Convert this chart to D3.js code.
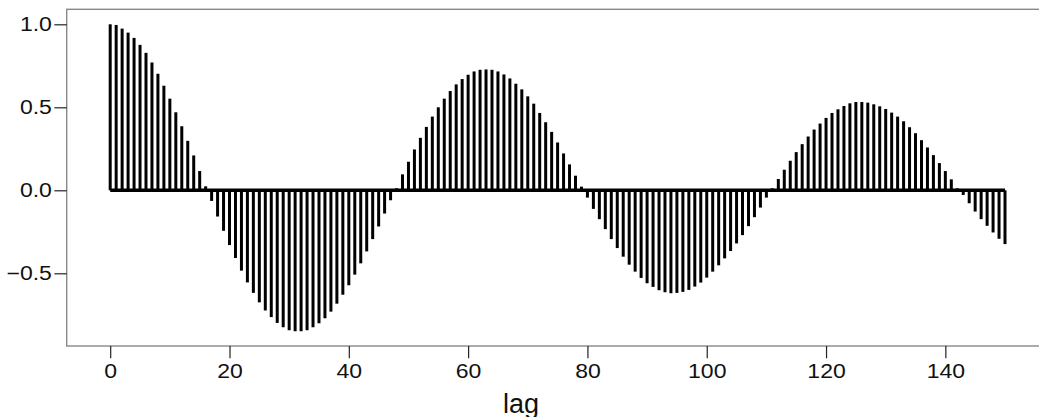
<!DOCTYPE html>
<html>
<head>
<meta charset="utf-8">
<script src="https://cdn.jsdelivr.net/npm/d3@7"></script>
<style>
    body { margin: 0; background: #fff; }
    text { font-family: "Liberation Sans", Arial, sans-serif; }
</style>
</head>
<body>
<div class="canva"></div>
<script>

// autocorrelation values, lag 0..150
const lags = d3.range(0, 151);
const acf = [
    1.000, 0.996, 0.974, 0.950, 0.918, 0.876, 0.828, 0.770, 0.702, 0.630,
    0.552, 0.470, 0.386, 0.298, 0.210, 0.116, 0.024, -0.064, -0.158, -0.244,
    -0.330, -0.408, -0.484, -0.555, -0.618, -0.675, -0.724, -0.764, -0.799, -0.825,
    -0.843, -0.849, -0.849, -0.843, -0.825, -0.801, -0.771, -0.731, -0.683, -0.629,
    -0.572, -0.508, -0.440, -0.368, -0.294, -0.218, -0.140, -0.060, 0.012, 0.096,
    0.172, 0.246, 0.316, 0.382, 0.444, 0.500, 0.552, 0.598, 0.638, 0.670,
    0.696, 0.716, 0.726, 0.728, 0.726, 0.716, 0.698, 0.674, 0.642, 0.608,
    0.566, 0.522, 0.466, 0.410, 0.352, 0.288, 0.222, 0.156, 0.088, 0.022,
    -0.044, -0.112, -0.174, -0.234, -0.294, -0.348, -0.400, -0.448, -0.490, -0.528,
    -0.560, -0.582, -0.602, -0.614, -0.620, -0.618, -0.612, -0.600, -0.580, -0.556,
    -0.526, -0.490, -0.452, -0.410, -0.366, -0.320, -0.270, -0.216, -0.162, -0.104,
    -0.044, 0.012, 0.068, 0.124, 0.178, 0.230, 0.278, 0.324, 0.366, 0.402,
    0.436, 0.466, 0.488, 0.508, 0.524, 0.532, 0.532, 0.528, 0.518, 0.506,
    0.490, 0.468, 0.444, 0.416, 0.380, 0.344, 0.302, 0.258, 0.212, 0.164,
    0.116, 0.066, 0.012, -0.028, -0.078, -0.128, -0.174, -0.214, -0.254, -0.292,
    -0.324
];
const xTicks = [0, 20, 40, 60, 80, 100, 120, 140];
const yTicks = [-0.5, 0, 0.5, 1];

const svg = d3.select(".canva").append("svg")
    .attr("width", 1039)
    .attr("height", 417);

const x = d3.scaleLinear().domain([0, 150]).range([110.2, 1005]);
const y = d3.scaleLinear().domain([-0.5, 1]).range([273.3, 24.3]);

// frame (top, left, bottom; right side runs off the picture)
svg.append("rect")
    .attr("x", 66.7)
    .attr("y", 9.3)
    .attr("width", 1000)
    .attr("height", 336.7)
    .attr("fill", "none")
    .attr("stroke", "#888")
    .attr("stroke-width", 1.4);

svg.selectAll(".bar")
    .data(lags)
    .enter()
    .append("line")
    .attr("class", "bar")
    .attr("x1", d => x(d))
    .attr("x2", d => x(d))
    .attr("y1", y(0))
    .attr("y2", d => y(acf[d]))
    .attr("stroke", "black")
    .attr("stroke-width", 3);

svg.append("line")
    .attr("x1", x(0))
    .attr("x2", x(150))
    .attr("y1", y(0))
    .attr("y2", y(0))
    .attr("stroke", "black")
    .attr("stroke-width", 3.5);

const stretch = 1.18;

const yAxis = svg.append("g")
    .attr("transform", "translate(66.7,0)")
    .call(d3.axisLeft(y).tickValues(yTicks).tickFormat(d3.format(".1f")).tickSize(12.3).tickPadding(2.5));

const xAxis = svg.append("g")
    .attr("transform", "translate(0,346)")
    .call(d3.axisBottom(x).tickValues(xTicks).tickSize(12.3).tickPadding(6));

svg.selectAll(".domain").remove();
svg.selectAll(".tick line").attr("stroke", "#222").attr("stroke-width", 1.2);
svg.selectAll(".tick text")
    .attr("fill", "#111")
    .style("font-size", "19.5px")
    .style("font-family", "'Liberation Sans', Arial, sans-serif");

// the original labels are drawn wider than plain Arial
yAxis.selectAll(".tick text")
    .attr("x", -14.8 / stretch)
    .attr("transform", `scale(${stretch},1)`);
xAxis.selectAll(".tick text")
    .attr("transform", `scale(${stretch},1)`);

svg.append("text")
    .attr("x", 521)
    .attr("y", 412.5)
    .attr("text-anchor", "middle")
    .attr("fill", "#111")
    .style("font-size", "27px")
    .text("lag");

</script>
</body>
</html>
